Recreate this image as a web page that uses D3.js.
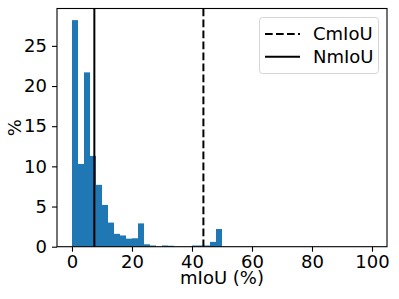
<!DOCTYPE html>
<html>
<head>
<meta charset="utf-8">
<script src="https://cdn.jsdelivr.net/npm/d3@7"></script>
<style>
body { margin: 0; background: #fff; }
svg { font-family: "DejaVu Sans", sans-serif; }
</style>
</head>
<body>
<div id="viz"></div>
<script>
var width = 399;
var height = 299;

// histogram: bins of 2 % mIoU from 0 to 100, value = share of samples (%)
var binStarts = d3.range(0, 100, 2);
var binWidth = 2;
var binValues = [28.2, 10.3, 21.7, 11.3, 7.7, 5.2, 3.0, 1.6, 1.4, 1.0,
                 1.05, 2.9, 0.3, 0.15, 0, 0.15, 0.12, 0, 0, 0,
                 0.15, 0.15, 0.15, 0.6, 2.2, 0, 0, 0, 0, 0,
                 0, 0, 0, 0, 0, 0, 0, 0, 0, 0,
                 0, 0, 0, 0, 0, 0, 0, 0, 0, 0];

var refNames = ["CmIoU", "NmIoU"];
var refValues = [43.8, 7.45];
var refDash = ["7.7,3.3", null];

var xTicks = [0, 20, 40, 60, 80, 100];
var yTicks = [0, 5, 10, 15, 20, 25];

var plotLeft = 57, plotRight = 387, plotTop = 8.5, plotBottom = 246.7;

var x = d3.scaleLinear().domain([-5, 105]).range([plotLeft, plotRight]);
var y = d3.scaleLinear().domain([0, 29.65]).range([plotBottom, plotTop]);

var svg = d3.select("#viz").append("svg")
	.attr("width", width)
	.attr("height", height);

// bars
svg.append("g").selectAll("rect")
	.data(binStarts)
	.enter().append("rect")
	.attr("x", function(d){ return x(d); })
	.attr("width", function(d){ return x(d + binWidth) - x(d); })
	.attr("y", function(d, i){ return y(binValues[i]); })
	.attr("height", function(d, i){ return y(0) - y(binValues[i]); })
	.attr("fill", "#1f77b4");

// vertical reference lines
svg.append("g").selectAll("line")
	.data(refValues)
	.enter().append("line")
	.attr("x1", function(d){ return x(d); })
	.attr("x2", function(d){ return x(d); })
	.attr("y1", plotTop)
	.attr("y2", plotBottom)
	.attr("stroke", "#000")
	.attr("stroke-width", 2)
	.attr("stroke-dasharray", function(d, i){ return refDash[i]; });

// axes
var xAxis = d3.axisBottom(x).tickValues(xTicks).tickSize(5).tickPadding(4);
var yAxis = d3.axisLeft(y).tickValues(yTicks).tickSize(5).tickPadding(5);

var gx = svg.append("g").attr("transform", "translate(0," + plotBottom + ")").call(xAxis);
var gy = svg.append("g").attr("transform", "translate(" + plotLeft + ",0)").call(yAxis);

[gx, gy].forEach(function(g){
	g.select(".domain").remove();
	g.selectAll("line").attr("stroke", "#000").attr("stroke-width", 1.1);
	g.selectAll("text")
		.attr("fill", "#000")
		.style("font-size", "18px")
		.style("font-family", "DejaVu Sans");
});

// frame
svg.append("rect")
	.attr("x", plotLeft)
	.attr("y", plotTop)
	.attr("width", plotRight - plotLeft)
	.attr("height", plotBottom - plotTop)
	.attr("fill", "none")
	.attr("stroke", "#000")
	.attr("stroke-width", 1.1);

// labels
svg.append("text")
	.attr("x", (plotLeft + plotRight) / 2)
	.attr("y", 284)
	.attr("text-anchor", "middle")
	.style("font-size", "18px")
	.text("mIoU (%)");

svg.append("text")
	.attr("transform", "translate(21," + ((plotTop + plotBottom) / 2) + ") rotate(-90)")
	.attr("text-anchor", "middle")
	.style("font-size", "18px")
	.text("%");

// legend
var legend = svg.append("g");
legend.append("rect")
	.attr("x", 259.5)
	.attr("y", 17.5)
	.attr("width", 119)
	.attr("height", 56)
	.attr("rx", 3)
	.attr("fill", "#fff")
	.attr("fill-opacity", 0.8)
	.attr("stroke", "#d6d6d6")
	.attr("stroke-width", 1);

var items = legend.selectAll("g.item")
	.data(refNames)
	.enter().append("g")
	.attr("class", "item")
	.attr("transform", function(d, i){ return "translate(0," + (34 + i * 22.7) + ")"; });

items.append("line")
	.attr("x1", 265)
	.attr("x2", 300)
	.attr("stroke", "#000")
	.attr("stroke-width", 2)
	.attr("stroke-dasharray", function(d, i){ return refDash[i]; });

items.append("text")
	.attr("x", 313)
	.attr("dy", "0.35em")
	.style("font-size", "18px")
	.text(function(d){ return d; });
</script>
</body>
</html>
